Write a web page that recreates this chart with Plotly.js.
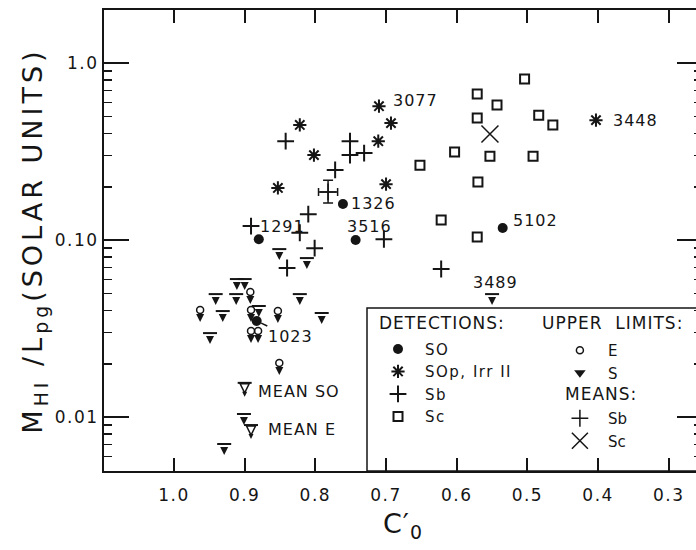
<!DOCTYPE html>
<html><head><meta charset="utf-8">
<script src="https://cdn.plot.ly/plotly-3.0.1.min.js"></script>
<style>
html,body{margin:0;padding:0;overflow:hidden;background:#fff;width:696px;height:550px}
#chart{width:706px;height:550px}
text.legendtext{letter-spacing:1.5px}
g.xtick text, g.ytick text{letter-spacing:1.5px}
text.annotation-text{letter-spacing:1px}
text.ytitle{letter-spacing:4px}
text.xtitle{letter-spacing:1px}
</style>
</head><body><div id="chart"></div>
<script>
// ---- data (C'0 concentration index, M_HI/L_pg) ----
const s0C = [0.761, 0.880, 0.743, 0.535, 0.883];
const s0R = [0.160, 0.101, 0.100, 0.117, 0.0349];
const s0Names = ['1326', '1291', '3516', '5102', '1023'];

const sopC = [0.822, 0.802, 0.853, 0.710, 0.693, 0.711, 0.700, 0.403];
const sopR = [0.447, 0.302, 0.197, 0.571, 0.458, 0.362, 0.207, 0.476];
const sopNames = ['', '', '', '3077', '', '', '', '3448'];

const sbC = [0.842, 0.751, 0.751, 0.731, 0.772, 0.810, 0.891, 0.822, 0.703, 0.801, 0.840, 0.622];
const sbR = [0.362, 0.362, 0.302, 0.310, 0.249, 0.140, 0.120, 0.110, 0.101, 0.090, 0.0695, 0.0686];

const scC = [0.504, 0.571, 0.543, 0.571, 0.484, 0.464, 0.603, 0.553, 0.492, 0.652, 0.570, 0.622, 0.571];
const scR = [0.812, 0.668, 0.579, 0.489, 0.508, 0.447, 0.314, 0.298, 0.298, 0.265, 0.213, 0.130, 0.104];

const limSC = [0.851, 0.812, 0.911, 0.900, 0.941, 0.912, 0.822, 0.931, 0.880, 0.791, 0.949, 0.929, 0.550, 0.901];
const limSR = [0.0889, 0.0791, 0.0602, 0.0602, 0.0495, 0.0495, 0.0495, 0.0397, 0.0424, 0.0387, 0.0298, 0.00704, 0.0495, 0.0104];
const limSNames = ['', '', '', '', '', '', '', '', '', '', '', '', '3489', ''];

const limEC = [0.892, 0.963, 0.891, 0.853, 0.891, 0.881, 0.851];
const limER = [0.0508, 0.0402, 0.0402, 0.0397, 0.0306, 0.0306, 0.0202];

const meanLimC = [0.900, 0.891];
const meanLimR = [0.0156, 0.00901];
const meanLimNames = ['MEAN SO', 'MEAN E'];

const sbMeanC = [0.782];
const sbMeanR = [0.187];
const sbMeanErrX = [0.0135];
const sbMeanErrYUp = [0.031];
const sbMeanErrYDown = [0.025];

const scMeanC = [0.553];
const scMeanR = [0.397];

const xTickVals = [1.0, 0.9, 0.8, 0.7, 0.6, 0.5, 0.4, 0.3];
const xTickText = ['1.0', '0.9', '0.8', '0.7', '0.6', '0.5', '0.4', '0.3'];
const yTickVals = [0.01, 0.1, 1];
const yTickText = ['0.01', '0.10', '1.0'];
const yMinorVals = [0.006, 0.007, 0.008, 0.009, 0.02, 0.03, 0.04, 0.05, 0.06, 0.07, 0.08, 0.09,
                    0.2, 0.3, 0.4, 0.5, 0.6, 0.7, 0.8, 0.9];

// ---- style ----
const INK = '#151515';
const FONT = 'DejaVu Sans, Verdana, sans-serif';
const base = {type: 'scatter', mode: 'markers', hoverinfo: 'skip', cliponaxis: false};

const traces = [
  Object.assign({}, base, {name: 'SO', legend: 'legend', x: s0C, y: s0R,
    marker: {symbol: 'circle', size: 10, color: INK}}),
  Object.assign({}, base, {name: 'SOp, Irr II', legend: 'legend', x: sopC, y: sopR,
    marker: {symbol: 'asterisk-open', size: 11, color: INK, line: {width: 2, color: INK}}}),
  Object.assign({}, base, {name: 'Sb', legend: 'legend', x: sbC, y: sbR,
    marker: {symbol: 'cross-thin-open', size: 12, color: INK, line: {width: 2, color: INK}}}),
  Object.assign({}, base, {name: 'Sc', legend: 'legend', x: scC, y: scR,
    marker: {symbol: 'square-open', size: 9, color: INK, line: {width: 2, color: INK}}}),

  // upper limits: E (open circle at the limit, arrow below)
  Object.assign({}, base, {name: 'E', legend: 'legend2', x: limEC, y: limER,
    marker: {symbol: 'circle-open', size: 7, color: INK, line: {width: 1.5, color: INK}}}),
  Object.assign({}, base, {showlegend: false, x: limEC, y: limER,
    marker: {symbol: 'arrow-down', size: 8, standoff: 12, color: INK, line: {width: 0}}}),
  // legend key for S (no data points)
  Object.assign({}, base, {name: 'S', legend: 'legend2', x: [null], y: [null],
    marker: {symbol: 'triangle-down', size: 10, color: INK, line: {width: 0}}}),
  // upper limits: S (bar at the limit, arrow below)
  Object.assign({}, base, {showlegend: false, x: limSC, y: limSR,
    marker: {symbol: 'arrow-down', size: 8, standoff: 11, color: INK, line: {width: 0}}}),
  Object.assign({}, base, {showlegend: false, x: limSC, y: limSR,
    marker: {symbol: 'line-ew-open', size: 10, color: INK, line: {width: 2, color: INK}}}),

  // mean upper limits (SO and E)
  Object.assign({}, base, {showlegend: false, x: meanLimC, y: meanLimR,
    marker: {symbol: 'line-ew-open', size: 10, color: INK, line: {width: 2, color: INK}}}),
  Object.assign({}, base, {showlegend: false, x: meanLimC, y: meanLimR,
    marker: {symbol: 'arrow-down-open', size: 9, standoff: 10, color: INK, line: {width: 1.5, color: INK}}}),
  Object.assign({}, base, {showlegend: false, x: meanLimC, y: meanLimR,
    marker: {symbol: 'arrow-down', size: 5, standoff: 14, color: INK, line: {width: 0}}}),

  // means of detections
  Object.assign({}, base, {name: 'Sb', legend: 'legend3', x: sbMeanC, y: sbMeanR,
    error_x: {type: 'data', symmetric: true, array: sbMeanErrX, thickness: 1.5, width: 4, color: INK},
    error_y: {type: 'data', symmetric: false, array: sbMeanErrYUp, arrayminus: sbMeanErrYDown, thickness: 1.5, width: 5, color: INK},
    marker: {symbol: 'cross-thin-open', size: 12, color: INK, line: {width: 1.5, color: INK}}}),
  Object.assign({}, base, {name: 'Sc', legend: 'legend3', x: scMeanC, y: scMeanR,
    marker: {symbol: 'x-thin-open', size: 17, color: INK, line: {width: 1.5, color: INK}}})
];

// ---- labels attached to data points ----
const lbl = (text, x, y, opts) => Object.assign({
  text: text, x: x, y: Math.log10(y), xref: 'x', yref: 'y', showarrow: false,
  font: {size: 16, color: INK, family: FONT}
}, opts);
const heading = (text, x, y) => ({text: text, xref: 'paper', yref: 'paper', x: x, y: y,
  xanchor: 'left', yanchor: 'middle', showarrow: false, font: {size: 17, color: INK, family: FONT}});

const annotations = [
  lbl(s0Names[0], s0C[0], s0R[0], {xanchor: 'left', xshift: 6}),
  lbl(s0Names[1], s0C[1], s0R[1], {xanchor: 'left', xshift: -1, yshift: 13}),
  lbl(s0Names[2], s0C[2], s0R[2], {xanchor: 'center', xshift: 14, yshift: 14}),
  lbl(s0Names[3], s0C[3], s0R[3], {xanchor: 'left', xshift: 8, yshift: 7}),
  lbl(s0Names[4], s0C[4], s0R[4], {showarrow: true, ax: 34, ay: 16, arrowhead: 0, arrowwidth: 1.5,
      arrowcolor: INK, standoff: 5}),
  lbl(sopNames[3], sopC[3], sopR[3], {xanchor: 'left', xshift: 12, yshift: 6}),
  lbl(sopNames[7], sopC[7], sopR[7], {xanchor: 'left', xshift: 15}),
  lbl(limSNames[12], limSC[12], limSR[12], {xanchor: 'center', xshift: 3, yshift: 12}),
  lbl(meanLimNames[0], meanLimC[0], meanLimR[0], {xanchor: 'left', xshift: 11, yshift: -9}),
  lbl(meanLimNames[1], meanLimC[1], meanLimR[1], {xanchor: 'left', xshift: 15, yshift: -4}),
  heading('DETECTIONS:', 0.4565, 0.321),
  heading('UPPER  LIMITS:', 0.729, 0.321),
  heading('MEANS:', 0.7676, 0.167)
];

const legendStyle = {bgcolor: 'rgba(0,0,0,0)', borderwidth: 0, font: {size: 15, color: INK, family: FONT},
  traceorder: 'normal', tracegroupgap: 0, xanchor: 'left', yanchor: 'top'};

const layout = {
  width: 706, height: 550,
  margin: {l: 104, r: 4, t: 10, b: 79},
  paper_bgcolor: '#fff', plot_bgcolor: '#fff',
  font: {family: FONT, color: INK, size: 16},
  showlegend: true,
  xaxis: {
    range: [1.099, 0.253], tickmode: 'array', tickvals: xTickVals, ticktext: xTickText,
    ticks: 'inside', ticklen: 13, tickwidth: 2, tickcolor: INK,
    showline: true, linewidth: 2, linecolor: INK, mirror: 'ticks',
    showgrid: false, zeroline: false, ticklabelstandoff: 8,
    tickfont: {size: 17, color: INK, family: FONT},
    title: {text: 'C′<sub>0</sub>', font: {size: 27, color: INK, family: FONT}, standoff: 10}
  },
  yaxis: {
    type: 'log', range: [-2.305, 0.30], tickmode: 'array', tickvals: yTickVals, ticktext: yTickText,
    ticks: 'inside', ticklen: 25, tickwidth: 2, tickcolor: INK,
    minor: {tickmode: 'array', tickvals: yMinorVals, ticks: 'inside', ticklen: 8, tickwidth: 1.5, tickcolor: INK, showgrid: false},
    showline: true, linewidth: 2, linecolor: INK, mirror: 'ticks',
    showgrid: false, zeroline: false,
    tickfont: {size: 17, color: INK, family: FONT},
    title: {text: 'M<sub>HI</sub> /L<sub>pg</sub>(SOLAR UNITS)', font: {size: 27, color: INK, family: FONT}, standoff: 4}
  },
  legend: Object.assign({}, legendStyle, {x: 0.4465, y: 0.300, itemwidth: 44}),
  legend2: Object.assign({}, legendStyle, {x: 0.749, y: 0.297, itemwidth: 46}),
  legend3: Object.assign({}, legendStyle, {x: 0.749, y: 0.1497, itemwidth: 46}),
  shapes: [
    {type: 'rect', xref: 'paper', yref: 'paper', x0: 0.4398, x1: 1.0, y0: 0, y1: 0.3536,
     line: {color: INK, width: 1.5}, fillcolor: 'rgba(0,0,0,0)'}
  ],
  annotations: annotations
};

Plotly.newPlot('chart', traces, layout, {staticPlot: true, displayModeBar: false});
</script></body></html>
